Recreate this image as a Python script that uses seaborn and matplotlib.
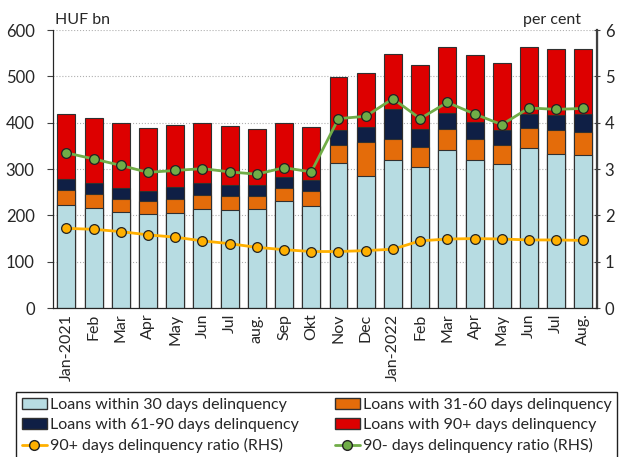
import pandas as pd
import matplotlib
matplotlib.use("Agg")
import matplotlib.pyplot as plt
import seaborn as sns
from matplotlib.patches import Patch
from matplotlib.lines import Line2D

# data
months = ["Jan-2021", "Feb", "Mar", "Apr", "May", "Jun", "Jul", "aug.", "Sep", "Okt",
          "Nov", "Dec", "Jan-2022", "Feb", "Mar", "Apr", "May", "Jun", "Jul", "Aug."]
within30 = [222, 217, 207, 202, 206, 214, 212, 213, 231, 220,
            314, 284, 319, 304, 341, 320, 312, 346, 333, 330]
d31_60 = [32, 30, 29, 30, 29, 29, 30, 28, 29, 32,
          38, 74, 47, 44, 45, 44, 39, 42, 51, 51]
d61_90 = [24, 22, 24, 20, 26, 26, 24, 24, 23, 24,
          32, 32, 63, 39, 35, 37, 34, 32, 32, 37]
d90plus = [142, 142, 140, 136, 135, 130, 127, 121, 117, 115,
           115, 118, 119, 137, 142, 145, 144, 143, 144, 142]
ratio90plus = [1.72, 1.70, 1.65, 1.58, 1.53, 1.45, 1.39, 1.31, 1.26, 1.22,
               1.22, 1.24, 1.27, 1.45, 1.49, 1.50, 1.49, 1.47, 1.47, 1.46]
ratio90minus = [3.35, 3.22, 3.08, 2.93, 2.97, 3.01, 2.94, 2.89, 3.03, 2.94,
                4.09, 4.14, 4.52, 4.09, 4.44, 4.19, 3.96, 4.32, 4.29, 4.31]

c_blue = "#b7dce2"
c_orange = "#e46c0a"
c_navy = "#0f1f45"
c_red = "#dd0000"
c_gold = "#ffb000"
c_green = "#70ad47"

sns.set_style("white")
plt.rcParams["font.family"] = ["Lato", "DejaVu Sans"]

df = pd.DataFrame({"month": range(len(months)), "a": within30, "b": d31_60,
                   "c": d61_90, "d": d90plus})
df["cb"] = df["a"] + df["b"]
df["cc"] = df["cb"] + df["c"]
df["cd"] = df["cc"] + df["d"]

fig, ax = plt.subplots(figsize=(6.2, 4.57), dpi=100)
fig.subplots_adjust(left=0.085, right=0.963, top=0.934, bottom=0.326)

# stacked bars: draw cumulative totals from the top down
for col, color in [("cd", c_red), ("cc", c_navy), ("cb", c_orange), ("a", c_blue)]:
    sns.barplot(data=df, x="month", y=col, color=color, width=0.66,
                edgecolor="#303030", linewidth=0.8, saturation=1, ax=ax, zorder=2)

ax.set_ylim(0, 600)
ax.set_xlim(-0.5, len(months) - 0.5)
ax.set_yticks(range(0, 601, 100))
ax.yaxis.grid(True, linestyle=":", color="#b0b0b0", linewidth=0.8)
ax.set_axisbelow(True)
ax.set_xlabel("")
ax.set_ylabel("")
ax.set_xticks(range(len(months)))
ax.set_xticklabels(months, rotation=90, fontsize=11.5)
ax.tick_params(axis="x", length=0, pad=4)
ax.set_xticks([i + 0.5 for i in range(-1, len(months))], minor=True)
ax.tick_params(axis="x", which="minor", length=5, direction="inout", color="#404040")
ax.tick_params(axis="y", labelsize=12, length=4, direction="out", pad=9, color="#404040")
for s in ax.spines.values():
    s.set_color("#202020")
ax.spines["top"].set_visible(False)

ax2 = ax.twinx()
sns.lineplot(x=df["month"], y=ratio90minus, color=c_green, lw=2, marker="o",
             markersize=7, markerfacecolor=c_green, markeredgecolor="#222222",
             markeredgewidth=0.9, ax=ax2, zorder=3)
sns.lineplot(x=df["month"], y=ratio90plus, color=c_gold, lw=2, marker="o",
             markersize=7, markerfacecolor=c_gold, markeredgecolor="#222222",
             markeredgewidth=0.9, ax=ax2, zorder=3)
ax2.set_ylim(0, 6)
ax2.set_yticks(range(0, 7))
ax2.tick_params(axis="y", labelsize=12, length=5, direction="inout", pad=3, color="#404040")
ax2.spines["right"].set_color("#404040")
ax2.spines["right"].set_linewidth(1.6)
ax2.spines["top"].set_visible(False)
ax2.set_ylabel("")

ax.text(0.005, 1.012, "HUF bn", transform=ax.transAxes, fontsize=11.5, ha="left", va="bottom")
ax.text(0.97, 1.012, "per cent", transform=ax.transAxes, fontsize=11.5, ha="right", va="bottom")

handles = [
    Patch(facecolor=c_blue, edgecolor="#303030", label="Loans within 30 days delinquency"),
    Patch(facecolor=c_navy, edgecolor="#303030", label="Loans with 61-90 days delinquency"),
    Line2D([], [], color=c_gold, lw=2, marker="o", markersize=7, markerfacecolor=c_gold,
           markeredgecolor="#222222", label="90+ days delinquency ratio (RHS)"),
    Patch(facecolor=c_orange, edgecolor="#303030", label="Loans with 31-60 days delinquency"),
    Patch(facecolor=c_red, edgecolor="#303030", label="Loans with 90+ days delinquency"),
    Line2D([], [], color=c_green, lw=2, marker="o", markersize=7, markerfacecolor=c_green,
           markeredgecolor="#222222", label="90- days delinquency ratio (RHS)"),
]
fig.legend(handles=handles, ncol=2, loc="upper left", mode="expand",
           bbox_to_anchor=(0.026, -0.1, 0.969, 0.242), borderaxespad=0,
           fontsize=11.5, frameon=True, fancybox=False, edgecolor="#202020",
           framealpha=1, handlelength=1.6, handletextpad=0.15, borderpad=0.35,
           labelspacing=0.38, columnspacing=1.0)

fig.savefig("out.png", dpi=100)
